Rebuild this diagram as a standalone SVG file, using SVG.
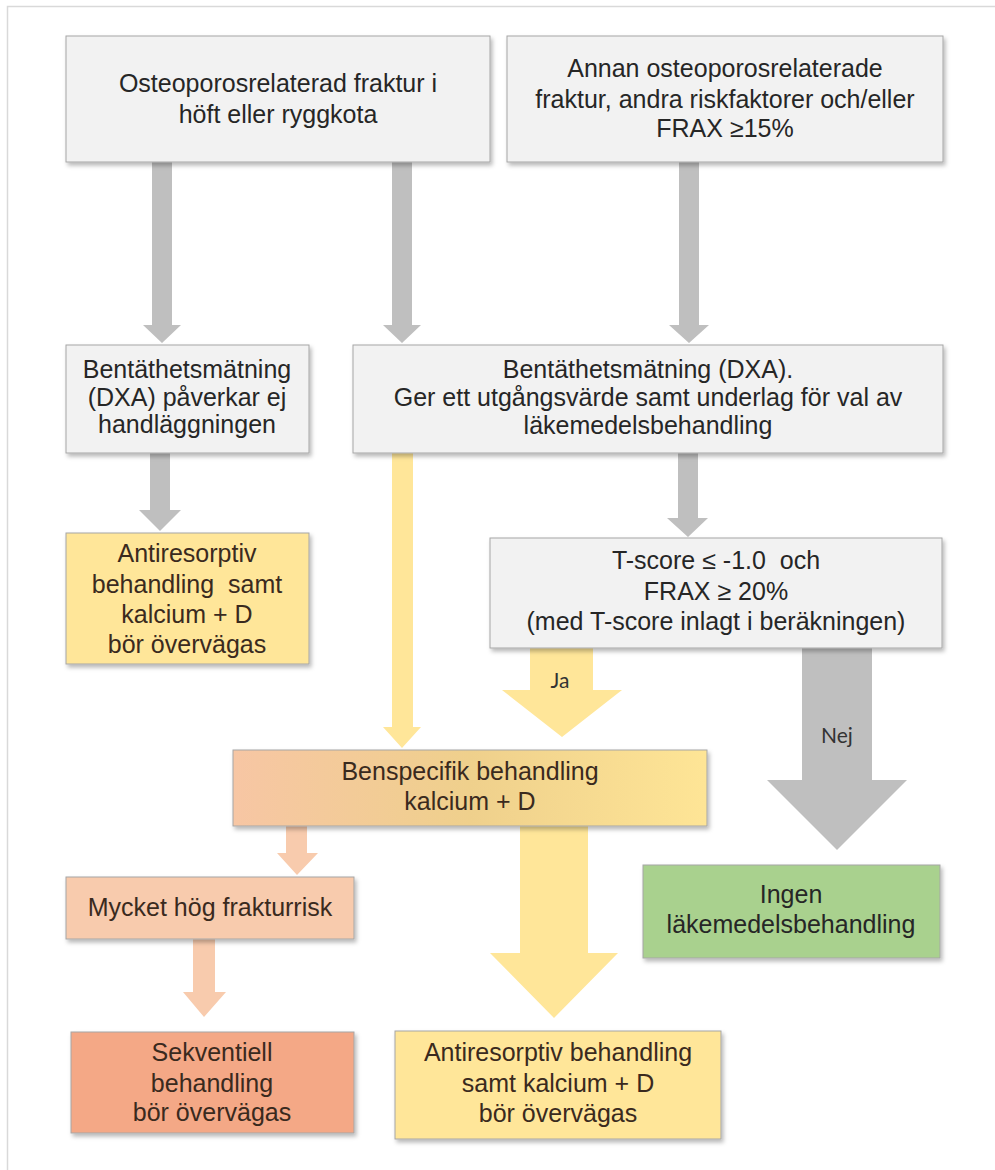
<svg xmlns="http://www.w3.org/2000/svg" width="995" height="1170" viewBox="0 0 995 1170">
  <defs>
    <filter id="shadow" x="-5%" y="-5%" width="112%" height="120%">
      <feDropShadow dx="2" dy="3" stdDeviation="2" flood-color="#000" flood-opacity="0.28"/>
    </filter>
    <linearGradient id="gradBenspec" x1="0" y1="0" x2="1" y2="0">
      <stop offset="0" stop-color="#F7C6A4"/>
      <stop offset="0.5" stop-color="#EFD08C"/>
      <stop offset="1" stop-color="#FEE596"/>
    </linearGradient>
    <style>
      .box { stroke: #A6A6A6; stroke-width: 1; filter: url(#shadow); }
      .gray { fill: #F2F2F2; }
      .yellow { fill: #FFE699; }
      .peach { fill: #F8CBAD; }
      .salmon { fill: #F4A886; }
      .green { fill: #A9D18E; }
      .benspec { fill: url(#gradBenspec); }
      .lbl { font-family: "Liberation Sans", Arial, sans-serif; font-size: 25px; fill: #262626; text-anchor: middle; white-space: pre; }
      .warm { fill: #3A2A1E; }
      .tag { font-family: Lato, "Liberation Sans", sans-serif; font-size: 21px; fill: #333; text-anchor: middle; }
      .aGray { fill: #BFBFBF; }
      .aYellow { fill: #FFE699; }
      .aPeach { fill: #F8CBAD; }
    </style>
  </defs>

  <rect width="995" height="1170" fill="#FFFFFF"/>
  <!-- page frame -->
  <path d="M7.5 1170 V6.5 H995" fill="none" stroke="#D9D9D9" stroke-width="1.5"/>

  <!-- connectors -->
  <g id="connectors">
    <polygon class="aGray" points="152,162 172,162 172,325 181,325 162,343 143,325 152,325"/>
    <polygon class="aGray" points="392,162 412,162 412,325 421,325 402,343 383,325 392,325"/>
    <polygon class="aGray" points="679,162 699,162 699,325 709,325 689,343 669,325 679,325"/>
    <polygon class="aGray" points="150,453 170,453 170,510 181,510 160,531 139,510 150,510"/>
    <polygon class="aYellow" points="392,453 413,453 413,727 421,727 402,748 383,727 392,727"/>
    <polygon class="aGray" points="678,453 698,453 698,518 708,518 688,537 667,518 678,518"/>
    <polygon class="aYellow" points="530,648 593,648 593,690 622,690 562,737 502,690 530,690"/>
    <polygon class="aGray" points="802,648 872,648 872,780 907,780 837,850 767,780 802,780"/>
    <polygon class="aPeach" points="286,826 307,826 307,853 318,853 297,875 277,853 286,853"/>
    <polygon class="aPeach" points="193,939 215,939 215,992 226,992 204,1017 183,992 193,992"/>
    <polygon class="aYellow" points="520,826 588,826 588,953 618,953 554,1018 490,953 520,953"/>
    <text class="tag" x="560" y="688">Ja</text>
    <text class="tag" x="837" y="743">Nej</text>
  </g>

  <g id="node-hip-spine">
    <rect class="box gray" x="66" y="36" width="424" height="126"/>
    <text class="lbl" x="278" y="92">Osteoporosrelaterad fraktur i</text>
    <text class="lbl" x="278" y="123">höft eller ryggkota</text>
  </g>

  <g id="node-other-fracture">
    <rect class="box gray" x="507" y="36" width="436" height="126"/>
    <text class="lbl" x="725" y="77">Annan osteoporosrelaterade</text>
    <text class="lbl" x="725" y="108">fraktur, andra riskfaktorer och/eller</text>
    <text class="lbl" x="725" y="137">FRAX ≥15%</text>
  </g>

  <g id="node-dxa-no-effect">
    <rect class="box gray" x="66" y="345" width="243" height="108"/>
    <text class="lbl" x="187" y="378">Bentäthetsmätning</text>
    <text class="lbl" x="187" y="406">(DXA) påverkar ej</text>
    <text class="lbl" x="187" y="433">handläggningen</text>
  </g>

  <g id="node-dxa-baseline">
    <rect class="box gray" x="353" y="345" width="590" height="108"/>
    <text class="lbl" x="648" y="378">Bentäthetsmätning (DXA).</text>
    <text class="lbl" x="648" y="406">Ger ett utgångsvärde samt underlag för val av</text>
    <text class="lbl" x="648" y="434">läkemedelsbehandling</text>
  </g>

  <g id="node-antiresorptive-left">
    <rect class="box yellow" x="66" y="533" width="243" height="131"/>
    <text class="lbl warm" x="187" y="562">Antiresorptiv</text>
    <text class="lbl warm" x="187" y="593">behandling  samt</text>
    <text class="lbl warm" x="187" y="623">kalcium + D</text>
    <text class="lbl warm" x="187" y="653">bör övervägas</text>
  </g>

  <g id="node-tscore">
    <rect class="box gray" x="490" y="538" width="452" height="110"/>
    <text class="lbl" x="716" y="569">T-score ≤ -1.0  och</text>
    <text class="lbl" x="716" y="600">FRAX ≥ 20%</text>
    <text class="lbl" x="716" y="630">(med T-score inlagt i beräkningen)</text>
  </g>

  <g id="node-bone-specific">
    <rect class="box benspec" x="233" y="750" width="474" height="76"/>
    <text class="lbl warm" x="470" y="780">Benspecifik behandling</text>
    <text class="lbl warm" x="470" y="810">kalcium + D</text>
  </g>

  <g id="node-very-high-risk">
    <rect class="box peach" x="66" y="877" width="288" height="62"/>
    <text class="lbl warm" x="210" y="916">Mycket hög frakturrisk</text>
  </g>

  <g id="node-no-medication">
    <rect class="box green" x="643" y="865" width="297" height="93"/>
    <text class="lbl" x="791" y="903">Ingen</text>
    <text class="lbl" x="791" y="933">läkemedelsbehandling</text>
  </g>

  <g id="node-sequential">
    <rect class="box salmon" x="71" y="1032" width="283" height="101"/>
    <text class="lbl warm" x="212" y="1061">Sekventiell</text>
    <text class="lbl warm" x="212" y="1092">behandling</text>
    <text class="lbl warm" x="212" y="1121">bör övervägas</text>
  </g>

  <g id="node-antiresorptive-bottom">
    <rect class="box yellow" x="395" y="1031" width="326" height="108"/>
    <text class="lbl warm" x="558" y="1061">Antiresorptiv behandling</text>
    <text class="lbl warm" x="558" y="1092">samt kalcium + D</text>
    <text class="lbl warm" x="558" y="1122">bör övervägas</text>
  </g>
</svg>
